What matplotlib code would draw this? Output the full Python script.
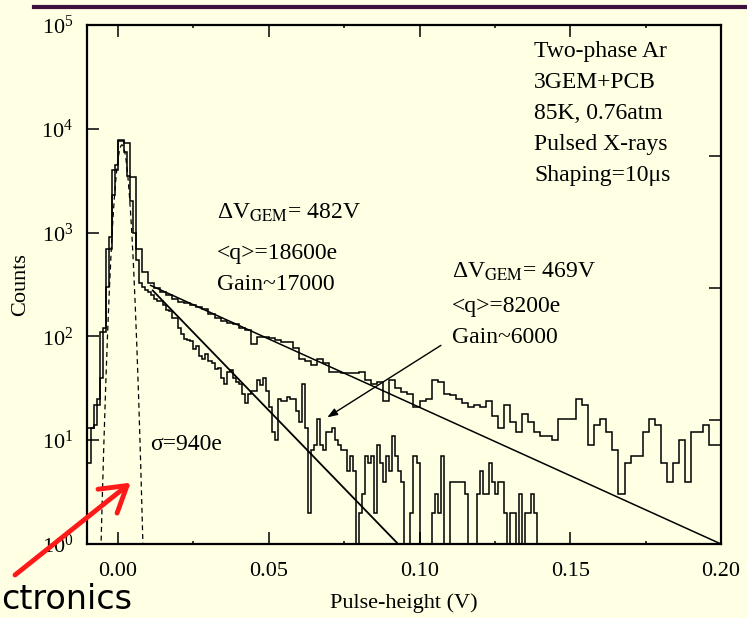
import numpy as np
import matplotlib
matplotlib.use("Agg")
import matplotlib.pyplot as plt
from matplotlib.lines import Line2D
from matplotlib.ticker import LogLocator, MultipleLocator, NullLocator, NullFormatter

plt.rcParams["font.family"] = ["Liberation Serif", "DejaVu Serif"]
plt.rcParams["mathtext.fontset"] = "stix"

BG = "#FFFFE3"

# pulse-height spectrum at dV_GEM = 482 V, 2 mV bins starting at -0.010 V
BIN_482 = 0.002
COUNTS_482 = [
    13, 22, 110, 700, 4000, 7800, 7300, 3400, 700, 415,
    330, 290, 265, 250, 230, 215, 210, 200, 190, 185,
    166, 150, 140, 136, 133, 120, 114, 85, 98, 98,
    96, 92, 88, 88, 77, 61, 58, 53, 61, 55,
    45, 45, 44, 44, 44, 45, 38, 35, 36, 24,
    38, 32, 29, 28, 21, 24, 25, 38, 36, 28,
    27, 25, 23, 21, 22, 21, 24, 17, 13, 22,
    15, 12, 18, 15, 12, 11, 11, 10, 16, 16,
    16, 25, 22, 9, 14, 16, 12, 8, 3, 6,
    7, 7, 12, 16, 14, 6, 4, 6, 10, 4,
    12, 12, 14, 9, 9,
]

# pulse-height spectrum at dV_GEM = 469 V, 1 mV bins starting at -0.010 V
BIN_469 = 0.001
COUNTS_469 = [
    6, 13, 14, 25, 40, 120, 300, 900, 2300, 4500,
    7600, 7700, 6000, 3500, 2000, 1000, 550, 330, 300, 280,
    270, 250, 230, 220, 220, 200, 180, 175, 150, 150,
    120, 105, 95, 92, 90, 75, 80, 65, 60, 68,
    58, 55, 48, 50, 40, 35, 45, 47, 40, 36,
    35, 28, 23, 28, 30, 30, 38, 34, 40, 30,
    21, 12, 10, 25, 24, 24, 26, 25, 25, 19,
    15, 35, 13, 2, 8, 9, 16, 9, 8, 12,
    12, 13, 10, 9, 8, 8, 5, 7, 5, 1,
    2, 3, 7, 6, 7, 2, 9, 6, 4, 7,
    5, 11, 7, 5, 4, 0, 1, 2, 7, 6,
    1, 0, 1, 1, 2, 3, 2, 7, 0, 1,
    4, 4, 4, 4, 4, 3, 1, 1, 1, 3,
    5, 3, 3, 6, 4, 3, 4, 4, 2, 1,
    2, 2, 0, 3, 1, 2, 2, 3, 2, 0,
]
X_START = -0.010

# exponential tail fits (end points, straight on a log axis)
FIT_482_X = [0.0108, 0.200]
FIT_482_Y = [310.0, 1.0]
FIT_469_X = [0.0115, 0.0929]
FIT_469_Y = [277.0, 1.0]

# gaussian of the electronics noise, sigma = 940 e
NOISE_AMP = 7000.0
NOISE_MEAN = 0.0013
NOISE_SIGMA = 0.00165

CONDITIONS = ["Two-phase Ar", "3GEM+PCB", "85K, 0.76atm", "Pulsed X-rays",
              "Shaping=10\u03bcs"]
LABEL_482 = ["\u0394V$_{\\mathrm{GEM}}$= 482V", "<q>=18600e", "Gain~17000"]
LABEL_469 = ["\u0394V$_{\\mathrm{GEM}}$= 469V", "<q>=8200e", "Gain~6000"]

W, H = 747, 618
fig = plt.figure(figsize=(W / 100, H / 100), dpi=100)
fig.patch.set_facecolor(BG)
ax = fig.add_axes([87 / W, 1 - 544 / H, (721 - 87) / W, (544 - 25) / H])
ax.set_facecolor(BG)

edges_482 = X_START + BIN_482 * np.arange(len(COUNTS_482) + 1)
edges_469 = X_START + BIN_469 * np.arange(len(COUNTS_469) + 1)
ax.stairs(COUNTS_482, edges_482, baseline=None, color="black", lw=1.1)
ax.stairs(COUNTS_469, edges_469, baseline=None, color="black", lw=1.1)

ax.plot(FIT_482_X, FIT_482_Y, color="black", lw=1.1)
ax.plot(FIT_469_X, FIT_469_Y, color="black", lw=1.3)

xg = np.linspace(NOISE_MEAN - 0.0075, NOISE_MEAN + 0.0075, 300)
yg = NOISE_AMP * np.exp(-0.5 * ((xg - NOISE_MEAN) / NOISE_SIGMA) ** 2)
ax.plot(xg, yg, color="black", lw=0.9, ls=(0, (4, 3)))

ax.set_yscale("log")
ax.set_xlim(-0.0103, 0.2)
ax.set_ylim(1, 1e5)
ax.xaxis.set_major_locator(MultipleLocator(0.05))
ax.xaxis.set_minor_locator(MultipleLocator(0.025))
ax.xaxis.set_major_formatter(plt.FuncFormatter(lambda v, p: f"{v:.2f}"))
ax.yaxis.set_major_locator(LogLocator(base=10, numticks=10))
ax.yaxis.set_minor_locator(NullLocator())
ax.tick_params(axis="x", which="major", direction="in", length=8.6, width=1.1,
               top=True, labelsize=16, pad=13)
ax.tick_params(axis="x", which="minor", direction="in", length=2.5, width=1.1,
               top=True)
ax.tick_params(axis="y", which="major", direction="in", length=8.6, width=1.1,
               right=False, labelsize=16, pad=10)
for s in ax.spines.values():
    s.set_linewidth(1.6)

# right-hand frame carries its own tick set
ax2 = ax.twinx()
ax2.set_yscale("log")
ax2.set_ylim(0.115, 977)
ax2.yaxis.set_major_locator(LogLocator(base=10, numticks=10))
ax2.yaxis.set_minor_locator(NullLocator())
ax2.yaxis.set_major_formatter(NullFormatter())
ax2.tick_params(axis="y", direction="in", length=8.6, width=1.1)
for s in ax2.spines.values():
    s.set_visible(False)

ax.set_xlabel("Pulse-height (V)", fontsize=16, labelpad=9)
ax.set_ylabel("Counts", fontsize=16, labelpad=8)

for k, line in enumerate(CONDITIONS):
    ax.text(0.705, 0.938 - k * 0.0597, line, transform=ax.transAxes,
            fontsize=17, va="baseline", ha="left")
for line, yf in zip(LABEL_482, [0.626, 0.549, 0.489]):
    ax.text(0.205, yf, line, transform=ax.transAxes,
            fontsize=17, va="baseline", ha="left")
for line, yf in zip(LABEL_469, [0.5125, 0.447, 0.387]):
    ax.text(0.575, yf, line, transform=ax.transAxes,
            fontsize=17, va="baseline", ha="left")
ax.text(0.0108, 8.0, "\u03c3=940e", fontsize=17, va="baseline", ha="left")

ax.annotate("", xy=(0.0694, 16.6), xytext=(0.1071, 82),
            arrowprops=dict(arrowstyle="-|>,head_length=0.6,head_width=0.22",
                            color="black", lw=1.0, shrinkA=0, shrinkB=0))

ax.annotate("", xy=(0.0042, 3.9), xytext=(15 / W, 1 - 575 / H),
            textcoords="figure fraction",
            arrowprops=dict(arrowstyle="->,head_length=0.9,head_width=0.55",
                            color="#FF1A1A", lw=3.5, shrinkA=0, shrinkB=0,
                            mutation_scale=20),
            annotation_clip=False, zorder=10)
fig.text(1 / W, 2 / H, "ctronics", fontsize=24, ha="left",
         va="bottom", family="DejaVu Sans")

fig.add_artist(Line2D([34 / W, 1], [1 - 7 / H, 1 - 7 / H], color="#3d1040",
                      lw=3, transform=fig.transFigure))

fig.savefig("out.png", dpi=100, facecolor=BG)
